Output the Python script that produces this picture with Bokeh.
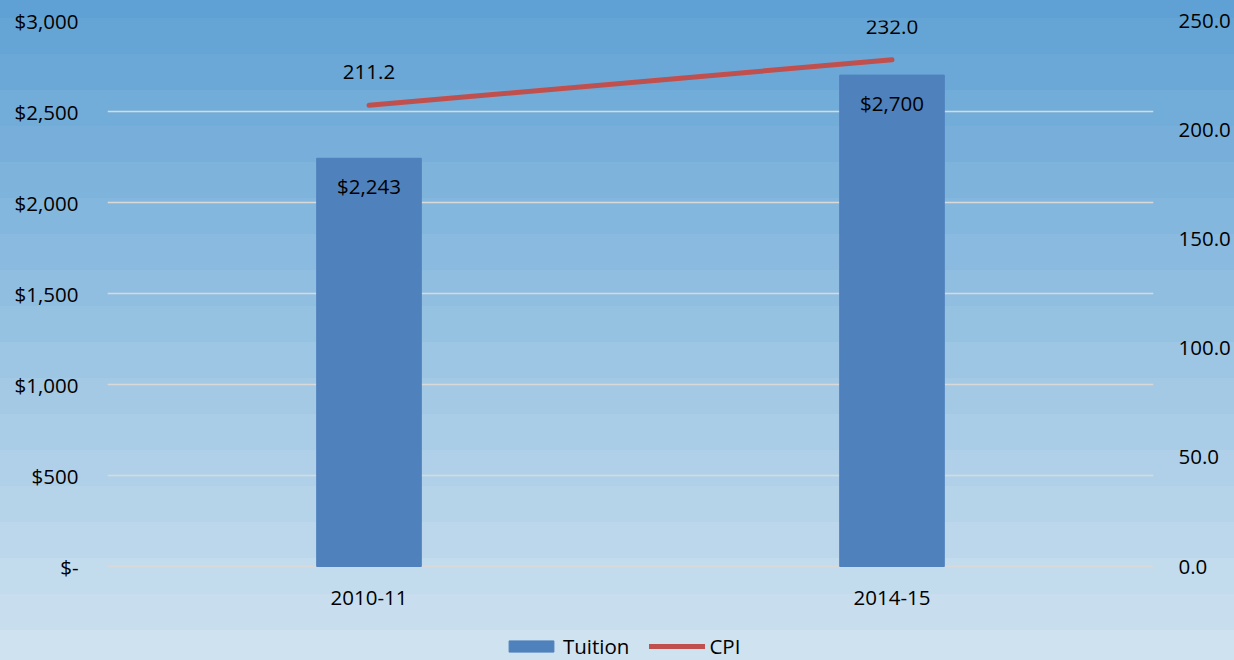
from bokeh.plotting import figure
from bokeh.models import (Range1d, LinearAxis, FixedTicker, Legend, LegendItem,
                          FactorRange, NumeralTickFormatter)
from bokeh.core.properties import value
from bokeh.embed import file_html
from bokeh.resources import INLINE

# ---- data ----
years = ["2010-11", "2014-15"]
tuition = [2243, 2700]
cpi = [211.2, 232.0]
tuition_labels = ["$2,243", "$2,700"]
cpi_labels = ["211.2", "232.0"]
left_ticks = [0, 500, 1000, 1500, 2000, 2500, 3000]
left_tick_labels = ["$-", "$500", "$1,000", "$1,500", "$2,000", "$2,500", "$3,000"]
right_ticks = [0, 50, 100, 150, 200, 250]
LEFT_MAX = 3000
RIGHT_MAX = 250

FONT = "Open Sans"
FS = "20.5px"
BAR = "#4f81bd"
LINE = "#c0504d"
GRID = "#d9d9d9"

# layout (pixels)
H = 660
TOP = 20          # y of top gridline
ZERO_Y = 566      # y of zero line
FRAME_H = H - TOP  # frame runs to bottom so labels/legend can sit under the zero line
below_frac = (H - ZERO_Y) / (ZERO_Y - TOP)

# banded background gradient (top darker blue -> bottom light blue)
top_c = (95, 161, 212)
bot_c = (206, 226, 240)
stops = []
edges = [0] + list(range(18, H, 36)) + [H]
nb = len(edges) - 1
for i in range(nb):
    t = i / (nb - 1)
    c = tuple(round(top_c[k] + (bot_c[k] - top_c[k]) * t) for k in range(3))
    col = "rgb(%d,%d,%d)" % c
    stops.append("%s %dpx" % (col, edges[i]))
    stops.append("%s %dpx" % (col, edges[i + 1]))
gradient = "linear-gradient(to bottom, " + ", ".join(stops) + ")"

p = figure(frame_width=1046, frame_height=FRAME_H, x_range=FactorRange(*years),
           y_range=Range1d(-LEFT_MAX * below_frac, LEFT_MAX),
           x_axis_location=None,
           output_backend="svg", toolbar_location=None,
           min_border_left=107, min_border_right=81, min_border_top=TOP, min_border_bottom=0)
p.styles = {"background": gradient}
p.border_fill_color = None
p.background_fill_color = None
p.outline_line_color = None

p.extra_y_ranges = {"cpi": Range1d(-RIGHT_MAX * below_frac, RIGHT_MAX)}

# left axis
la = p.yaxis[0]
la.ticker = FixedTicker(ticks=left_ticks)
la.major_label_overrides = {t: l for t, l in zip(left_ticks, left_tick_labels)}
la.axis_line_color = None
la.major_tick_line_color = None
la.minor_tick_line_color = None
la.major_label_standoff = 23
la.major_label_text_font = FONT
la.major_label_text_font_size = FS
la.major_label_text_color = "black"

# right axis
ra = LinearAxis(y_range_name="cpi", ticker=FixedTicker(ticks=right_ticks),
                formatter=NumeralTickFormatter(format="0.0"))
ra.axis_line_color = None
ra.major_tick_line_color = None
ra.minor_tick_line_color = None
ra.major_label_standoff = 19
ra.major_label_text_font = FONT
ra.major_label_text_font_size = FS
ra.major_label_text_color = "black"
p.add_layout(ra, "right")

p.xgrid.grid_line_color = None
p.ygrid.grid_line_color = GRID
p.ygrid.grid_line_width = 1.5
p.ygrid.ticker = FixedTicker(ticks=left_ticks)

bars = p.vbar(x=years, top=tuition, bottom=0, width=0.2, fill_color=BAR, line_color=BAR)
line = p.line(x=years, y=cpi, y_range_name="cpi", line_color=LINE, line_width=5, line_cap="round")

# category labels under the zero line
p.text(x=years, y=[0] * len(years), text=years, y_offset=31,
       text_align="center", text_baseline="middle", text_font=value(FONT),
       text_font_size=FS, text_color="black")

# data labels
p.text(x=years, y=cpi, text=cpi_labels, y_range_name="cpi", y_offset=-33,
       text_align="center", text_baseline="middle", text_font=value(FONT),
       text_font_size=FS, text_color="black")
p.text(x=years, y=tuition, text=tuition_labels, y_offset=28,
       text_align="center", text_baseline="middle", text_font=value(FONT),
       text_font_size=FS, text_color="black")

legend = Legend(items=[LegendItem(label="Tuition", renderers=[bars]),
                       LegendItem(label="CPI", renderers=[line])],
                orientation="horizontal", location=(396, 0),
                glyph_width=56, glyph_height=14, label_standoff=4, spacing=20,
                padding=0, margin=0, border_line_color=None, background_fill_alpha=0,
                label_text_font=FONT, label_text_font_size=FS, label_text_color="black")
p.add_layout(legend, "center")

open("out.html", "w").write(file_html(p, INLINE))
